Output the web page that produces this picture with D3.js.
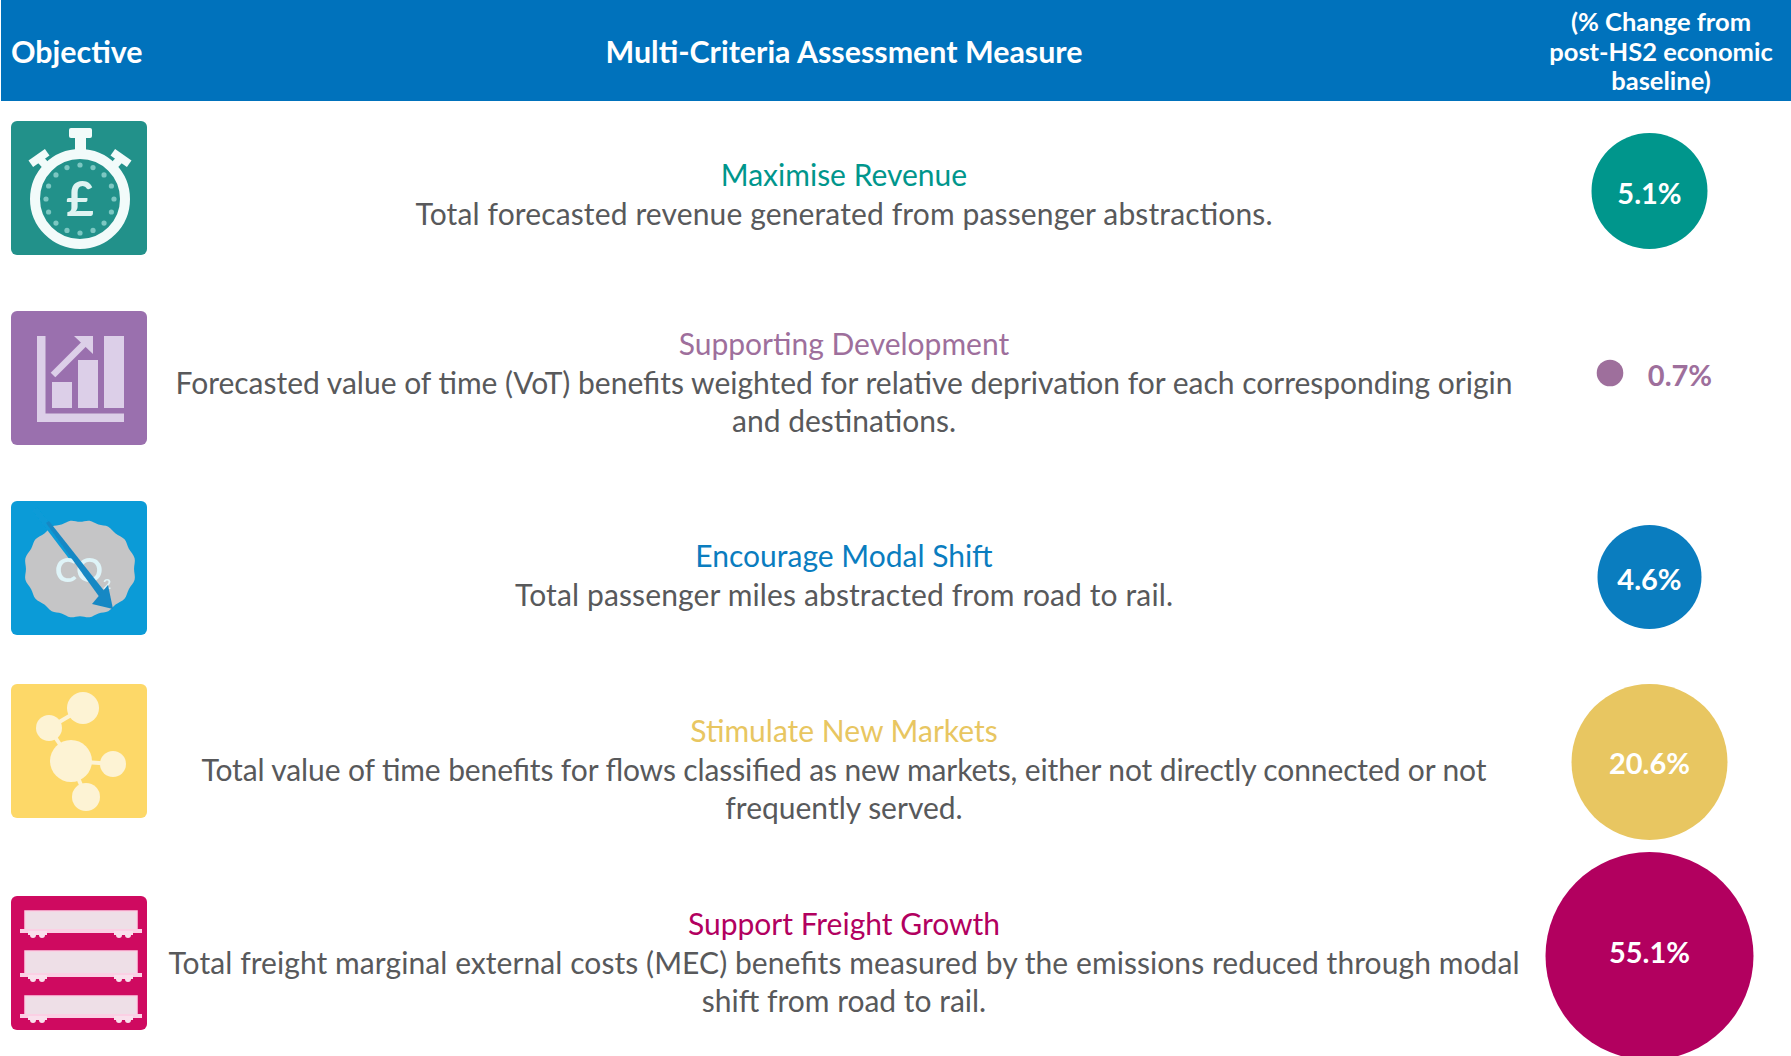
<!DOCTYPE html>
<html lang="en">
<head>
<meta charset="UTF-8">
<title>Multi-Criteria Assessment</title>
<script src="https://d3js.org/d3.v7.min.js"></script>
<style>
  html, body { margin: 0; padding: 0; background: #fff; overflow: hidden; }
  text { font-family: Lato, "Noto Sans", sans-serif; }
</style>
</head>
<body>
<div id="chart"></div>
<script>
  const objectives = ["Maximise Revenue", "Supporting Development", "Encourage Modal Shift", "Stimulate New Markets", "Support Freight Growth"];
  const descriptions = [
    ["Total forecasted revenue generated from passenger abstractions."],
    ["Forecasted value of time (VoT) benefits weighted for relative deprivation for each corresponding origin", "and destinations."],
    ["Total passenger miles abstracted from road to rail."],
    ["Total value of time benefits for flows classified as new markets, either not directly connected or not", "frequently served."],
    ["Total freight marginal external costs (MEC) benefits measured by the emissions reduced through modal", "shift from road to rail."]
  ];
  const values = [5.1, 0.7, 4.6, 20.6, 55.1];
  const colours = ["#00968c", "#9e6f9c", "#0a7dbf", "#e8c661", "#b2005f"];
  const iconColours = ["#22918a", "#9a70ae", "#0b9bd7", "#fdd868", "#cf0a60"];

  const width = 1791, height = 1056;
  const rowTop = [121, 311, 501, 684, 896];
  const rowCy = [191, 373, 577, 762, 956];
  const labelY = [204, 386, 590, 774, 963];
  const titleY = [186, 355, 567, 742, 935];
  const firstLineWidth = [857, 1337, 658, 1285, 1351];

  const svg = d3.select("#chart").append("svg").attr("width", width).attr("height", height);

  svg.append("defs").append("filter").attr("id", "soft")
    .attr("x", "-5%").attr("y", "-5%").attr("width", "110%").attr("height", "110%")
    .append("feGaussianBlur").attr("stdDeviation", 0.7);

  // bubbles in the source are not to any single scale, so this goes through the read sizes
  const r = d3.scaleLinear().domain([0.7, 4.6, 5.1, 20.6, 55.1]).range([13.3, 52, 58, 78, 104]);

  // header
  svg.append("rect").attr("x", 1).attr("width", width).attr("height", 101).attr("fill", "#0072bc");
  svg.append("text").attr("x", 11).attr("y", 63).attr("font-size", 30.4).attr("font-weight", 700).attr("fill", "#fff").text("Objective");
  svg.append("text").attr("x", 844).attr("y", 63).attr("text-anchor", "middle").attr("font-size", 30.4).attr("font-weight", 700).attr("fill", "#fff").text("Multi-Criteria Assessment Measure");
  ["(% Change from", "post-HS2 economic", "baseline)"].forEach((t, i) => {
    svg.append("text").attr("x", 1661).attr("y", 31 + i * 29.5).attr("text-anchor", "middle").attr("font-size", 25.5).attr("font-weight", 700).attr("fill", "#fff").text(t);
  });

  // rows
  const row = svg.selectAll(".row").data(objectives).enter().append("g").attr("class", "row");
  row.append("rect").attr("x", 11).attr("y", (d, i) => rowTop[i]).attr("width", 136).attr("height", 134).attr("rx", 6).attr("fill", (d, i) => iconColours[i]);
  row.append("text").attr("x", 844).attr("y", (d, i) => titleY[i]).attr("text-anchor", "middle").attr("font-size", 30).attr("fill", (d, i) => colours[i]).text(d => d);
  row.each(function (d, i) {
    descriptions[i].forEach((t, j) => {
      const line = d3.select(this).append("text").attr("x", 844).attr("y", titleY[i] + 39 + j * 38).attr("text-anchor", "middle").attr("font-size", 30).attr("fill", "#58595b").text(t);
      if (j === 0) line.attr("textLength", firstLineWidth[i]);
    });
  });
  row.append("circle").attr("cx", (d, i) => i === 1 ? 1610 : 1649.5).attr("cy", (d, i) => rowCy[i]).attr("r", (d, i) => r(values[i])).attr("fill", (d, i) => colours[i]);
  row.append("text").attr("x", (d, i) => i === 1 ? 1680 : 1649.5).attr("y", (d, i) => labelY[i]).attr("text-anchor", "middle").attr("font-size", 29).attr("font-weight", 700).attr("fill", (d, i) => i === 1 ? colours[1] : "#fff").text((d, i) => values[i] + "%");

  // icons, drawn in a local 136x134 box
  const icon = i => svg.append("g").attr("transform", "translate(11," + rowTop[i] + ")").attr("filter", "url(#soft)");

  // stopwatch
  const g0 = icon(0);
  const light0 = "#f2fbfa";
  g0.append("circle").attr("cx", 69).attr("cy", 78).attr("r", 45).attr("fill", "none").attr("stroke", light0).attr("stroke-width", 10);
  g0.append("rect").attr("x", 58).attr("y", 7).attr("width", 23).attr("height", 10).attr("rx", 2).attr("fill", light0);
  g0.append("rect").attr("x", 64).attr("y", 16).attr("width", 11).attr("height", 17).attr("fill", light0);
  [[28, 37, -35], [110, 37, 35]].forEach(k => {
    g0.append("rect").attr("x", -10).attr("y", -4).attr("width", 20).attr("height", 8).attr("fill", light0)
      .attr("transform", "translate(" + k[0] + "," + k[1] + ") rotate(" + k[2] + ")");
    g0.append("line").attr("x1", k[0]).attr("y1", k[1]).attr("x2", k[0] + (69 - k[0]) * 0.2).attr("y2", k[1] + 9).attr("stroke", light0).attr("stroke-width", 8);
  });
  d3.range(16).forEach(k => {
    const a = k * Math.PI / 8;
    g0.append("circle").attr("cx", 69 + 34 * Math.cos(a)).attr("cy", 78 + 34 * Math.sin(a)).attr("r", 2.6).attr("fill", "#7cc7c2");
  });
  g0.append("text").attr("x", 69).attr("y", 95).attr("text-anchor", "middle").attr("font-size", 48).attr("font-weight", 700).attr("fill", "#dff3f1").text("£");

  // bar chart with arrow
  const g1 = icon(1);
  const light1 = "#dccfe8";
  g1.append("rect").attr("x", 26).attr("y", 25).attr("width", 8.5).attr("height", 86).attr("fill", light1);
  g1.append("rect").attr("x", 26).attr("y", 102.5).attr("width", 87).attr("height", 8.5).attr("fill", light1);
  [[41, 71, 20, 26], [67, 49, 20, 48], [93, 25, 20, 72]].forEach(b => {
    g1.append("rect").attr("x", b[0]).attr("y", b[1]).attr("width", b[2]).attr("height", b[3]).attr("fill", light1);
  });
  g1.append("line").attr("x1", 42).attr("y1", 64).attr("x2", 77).attr("y2", 29).attr("stroke", light1).attr("stroke-width", 6.5);
  g1.append("path").attr("d", "M63,25L82,25L82,43Z").attr("fill", light1);

  // CO2 cloud
  const g2 = icon(2);
  const cloud = d3.lineRadial().curve(d3.curveCardinalClosed).angle(d => d[0]).radius(d => d[1]);
  const bumps = d3.range(32).map(k => {
    const a = k * Math.PI / 16;
    const sc = k % 2 ? 1 : 0.965;
    const rx = 56, ry = 49;
    return [a, sc * rx * ry / Math.hypot(ry * Math.sin(a), rx * Math.cos(a))];
  });
  g2.append("path").attr("d", cloud(bumps)).attr("transform", "translate(69,68)").attr("fill", "#c5c5c6");
  g2.append("line").attr("x1", 24).attr("y1", 8).attr("x2", 62).attr("y2", 58).attr("stroke", "#0b9bd7").attr("stroke-width", 6);
  g2.append("text").attr("x", 44).attr("y", 81).attr("font-size", 33).attr("font-weight", 700).attr("fill", "#dff4f8").text("CO");
  g2.append("text").attr("x", 92).attr("y", 88).attr("font-size", 14).attr("font-weight", 700).attr("fill", "#dff4f8").text("2");
  g2.append("path").attr("d", "M35,22L38,20L98,96L92,101Z").attr("fill", "#1788c4");
  g2.append("path").attr("d", "M102,108L81,103L97,84Z").attr("fill", "#1788c4");

  // network
  const g3 = icon(3);
  const light3 = "#fdf3d4";
  const hub = [[60, 77, 21], [72, 24, 16], [38, 44, 13], [102, 80, 13], [75, 113, 14]];
  [[2, 1], [2, 0], [0, 3], [0, 4]].forEach(e => {
    g3.append("line").attr("x1", hub[e[0]][0]).attr("y1", hub[e[0]][1]).attr("x2", hub[e[1]][0]).attr("y2", hub[e[1]][1]).attr("stroke", light3).attr("stroke-width", 4);
  });
  hub.forEach(c => g3.append("circle").attr("cx", c[0]).attr("cy", c[1]).attr("r", c[2]).attr("fill", light3));

  // freight wagons
  const g4 = icon(4);
  [[15, 20], [55, 24], [100, 20]].forEach(w => {
    const wy = w[0], wh = w[1], base = wy + wh;
    g4.append("rect").attr("x", 14).attr("y", wy).attr("width", 112).attr("height", wh).attr("fill", "#eedfe7").attr("stroke", "#fbd0e4").attr("stroke-width", 1.5);
    g4.append("rect").attr("x", 9).attr("y", base - 2).attr("width", 122).attr("height", 4).attr("fill", "#fbd0e4");
    [[17, 36], [103, 122]].forEach(b => {
      g4.append("rect").attr("x", b[0]).attr("y", base).attr("width", b[1] - b[0]).attr("height", 4).attr("fill", "#f9e0ec");
      g4.append("circle").attr("cx", b[0] + 5).attr("cy", base + 4).attr("r", 3).attr("fill", "#f9e0ec");
      g4.append("circle").attr("cx", b[1] - 5).attr("cy", base + 4).attr("r", 3).attr("fill", "#f9e0ec");
    });
  });
</script>
</body>
</html>
